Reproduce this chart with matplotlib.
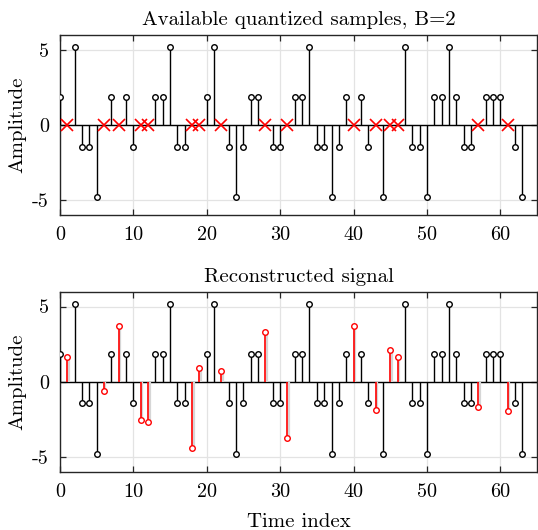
import numpy as np
import matplotlib
matplotlib.use('Agg')
import matplotlib.pyplot as plt

plt.rcParams['font.family'] = ['cmr10', 'DejaVu Serif']
plt.rcParams['axes.unicode_minus'] = False
plt.rcParams['mathtext.fontset'] = 'cm'

# Quantized samples (B=2); nan marks a missing sample
quantized = [1.87, np.nan, 5.2, -1.45, -1.45, -4.8, np.nan, 1.87,
             np.nan, 1.87, -1.45, np.nan, np.nan, 1.87, 1.87, 5.2,
             -1.45, -1.45, np.nan, np.nan, 1.87, 5.2, np.nan, -1.45,
             -4.8, -1.45, 1.87, 1.87, np.nan, -1.45, -1.45, np.nan,
             1.87, 1.87, 5.2, -1.45, -1.45, -4.8, -1.45, 1.87,
             np.nan, 1.87, -1.45, np.nan, -4.8, np.nan, np.nan, 5.2,
             -1.45, -1.45, -4.8, 1.87, 1.87, 5.2, 1.87, -1.45,
             -1.45, np.nan, 1.87, 1.87, 1.87, np.nan, -1.45, -4.8]

# Reconstructed values at the missing positions (in index order)
reconstructed = [1.67, -0.62, 3.71, -2.55, -2.69, -4.42, 0.93, 0.73,
                 3.29, -3.75, 3.71, -1.91, 2.11, 1.64, -1.69, -1.98]

x_ticks = [0, 10, 20, 30, 40, 50, 60]
y_ticks = [-5, 0, 5]
titles = ['Available quantized samples, B=2', 'Reconstructed signal']

q = np.array(quantized)
n = np.arange(len(q))
avail = ~np.isnan(q)
miss_idx = n[~avail]
rec = np.array(reconstructed)


def style_axes(ax):
    ax.set_xlim(0, 65)
    ax.set_ylim(-6, 6)
    ax.set_xticks(x_ticks)
    ax.set_yticks(y_ticks)
    ax.grid(True, color='#e3e3e3', lw=0.9)
    ax.set_axisbelow(True)
    ax.tick_params(direction='in', top=True, right=True, length=4,
                   width=0.9, color='#262626', labelsize=14.5, pad=8)
    for s in ax.spines.values():
        s.set_color('#262626')
        s.set_linewidth(1.0)
    ax.axhline(0, color='black', lw=1.0, zorder=2)
    ax.set_ylabel('Amplitude', fontsize=15, labelpad=4)


def black_stems(ax):
    ax.vlines(n[avail], 0, q[avail], color='black', lw=1.0, zorder=3)
    ax.plot(n[avail], q[avail], 'o', ms=4, mfc='white', mec='black',
            mew=1.0, zorder=4)


fig = plt.figure(figsize=(5.38, 5.30), dpi=100)
ax1 = fig.add_axes([0.1115, 0.594, 0.8866, 0.34])
ax2 = fig.add_axes([0.1115, 0.110, 0.8866, 0.34])

# Top: available samples and missing ones
black_stems(ax1)
ax1.plot(miss_idx, np.zeros(len(miss_idx)), 'x', color='red', ms=8,
         mew=1.2, zorder=5)
style_axes(ax1)
ax1.set_title(titles[0], fontsize=15, pad=7)

# Bottom: reconstruction
black_stems(ax2)
ax2.vlines(miss_idx + 0.2, 0, rec, color='#d6d6d6', lw=1.6, zorder=3)
ax2.vlines(miss_idx, 0, rec, color='red', lw=1.2, zorder=3)
ax2.plot(miss_idx, rec, 'o', ms=4, mfc='white', mec='red', mew=1.0,
         zorder=4)
style_axes(ax2)
ax2.set_title(titles[1], fontsize=15, pad=7)
ax2.set_xlabel('Time index', fontsize=15, labelpad=9)

fig.savefig('out.png', dpi=100)
